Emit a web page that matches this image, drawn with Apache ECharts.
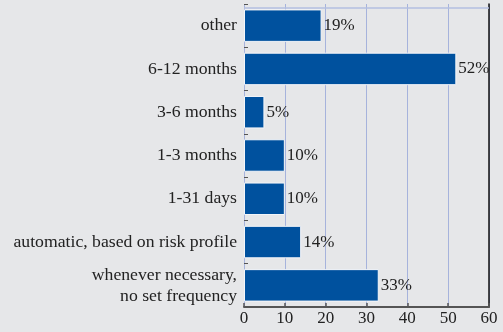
<!DOCTYPE html>
<html>
<head>
<meta charset="utf-8">
<script src="https://cdn.jsdelivr.net/npm/echarts@6/dist/echarts.min.js"></script>
<style>
  html, body { margin: 0; padding: 0; background: #e6e7e9; }
  #chart { width: 503px; height: 332px; }
</style>
</head>
<body>
<div id="chart"></div>
<script>
// Review frequency categories, top to bottom
const categories = [
  'other',
  '6-12 months',
  '3-6 months',
  '1-3 months',
  '1-31 days',
  'automatic, based on risk profile',
  'whenever necessary,\nno set frequency'
];
// Share of respondents, percent
const shares = [19, 52, 5, 10, 10, 14, 33];
// Value axis ticks
const axisMin = 0;
const axisMax = 60;
const axisStep = 10;

const serif = '"Liberation Serif", "DejaVu Serif", serif';
const gridTop = 4;

const chart = echarts.init(document.getElementById('chart'), null, { renderer: 'canvas' });
chart.setOption({
  backgroundColor: '#e6e7e9',
  animation: false,
  grid: { left: 244, right: 14, top: gridTop, bottom: 25, show: false },
  xAxis: {
    type: 'value',
    min: axisMin,
    max: axisMax,
    interval: axisStep,
    axisLine: { show: true, lineStyle: { color: '#555', width: 2 } },
    axisTick: { show: true, inside: true, length: 4, lineStyle: { color: '#555', width: 1.5 } },
    axisLabel: { color: '#222', fontFamily: serif, fontSize: 17, margin: 3 },
    splitLine: { show: true, lineStyle: { color: '#a6b3dc', width: 1 } }
  },
  yAxis: [
    {
      type: 'category',
      data: categories,
      inverse: true,
      axisLine: { show: false },
      axisTick: { show: true, inside: true, length: 4, lineStyle: { color: '#555', width: 1 } },
      axisLabel: { color: '#222', fontFamily: serif, fontSize: 17.7, lineHeight: 21, margin: 7, align: 'right' },
      splitLine: { show: false }
    },
    {
      type: 'category',
      data: categories,
      inverse: true,
      position: 'right',
      axisLine: { show: true, lineStyle: { color: '#111', width: 1.5 } },
      axisTick: { show: false },
      axisLabel: { show: false },
      splitLine: { show: false }
    }
  ],
  series: [{
    type: 'bar',
    data: shares,
    barWidth: '75%',
    itemStyle: { color: '#00519e', borderColor: '#f4f6fa', borderWidth: 1 },
    label: {
      show: true,
      position: 'right',
      distance: 2,
      formatter: '{c}%',
      color: '#222',
      fontFamily: serif,
      fontSize: 17
    }
  }]
});

// Light frame line across the top of the plot area
const x0 = chart.convertToPixel({ xAxisIndex: 0 }, axisMin);
const x1 = chart.convertToPixel({ xAxisIndex: 0 }, axisMax);
chart.setOption({
  graphic: [{
    type: 'line',
    shape: { x1: x0, y1: gridTop + 4, x2: x1, y2: gridTop + 4 },
    style: { stroke: '#b3bfe0', lineWidth: 1.5 },
    z: 1
  }]
});
</script>
</body>
</html>
